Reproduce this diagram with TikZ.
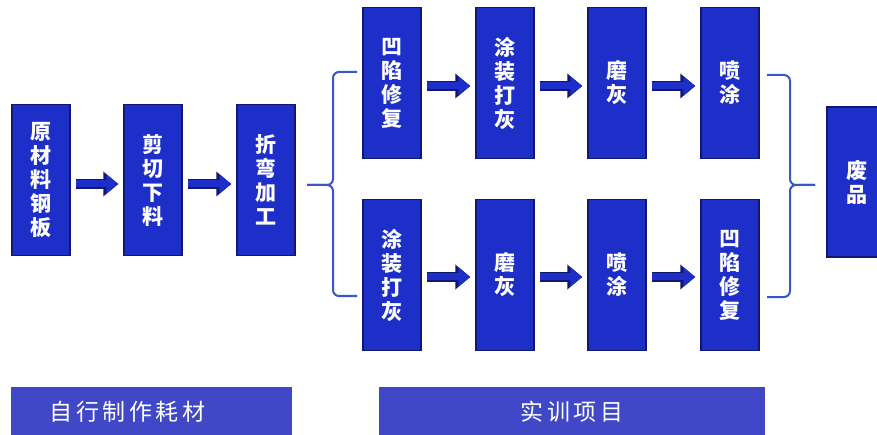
\documentclass[tikz,border=0pt]{standalone}
\usepackage{fontspec}
\usetikzlibrary{arrows.meta}
\newfontfamily\cjk{Noto Sans CJK SC}
\definecolor{boxblue}{RGB}{30,46,200}
\definecolor{boxline}{RGB}{18,24,110}
\definecolor{tagblue}{RGB}{64,72,200}
\definecolor{bracecol}{RGB}{55,85,205}
\tikzset{
  proc/.style={rectangle,fill=boxblue,draw=boxline,line width=1.5pt,
    minimum width=58pt,minimum height=151pt,inner sep=0pt,text=white,
    align=center,font=\cjk\bfseries\fontsize{21}{24}\selectfont},
  flow/.style={line width=7pt,draw=boxblue,-{Triangle[length=12pt,width=19pt]},
    shorten <=5pt,shorten >=5pt,
    preaction={draw=boxline,line width=10pt,-{Triangle[length=15pt,width=24pt]}}},
  tag/.style={rectangle,fill=tagblue,inner sep=0pt,minimum height=50pt,text=white,
    font=\cjk\fontsize{23}{24}\selectfont\addfontfeature{LetterSpace=15}},
  brace/.style={draw=bracecol,line width=2pt,rounded corners=6pt}
}
\begin{document}
\begin{tikzpicture}[x=1pt,y=-1pt]
  \clip (0,0) rectangle (877,435);
  \fill[white] (0,0) rectangle (877,435);

  % self-made stock
  \node[proc] (raw)  at (41,180)  {原\\材\\料\\钢\\板};
  \node[proc] (cut)  at (153,180) {剪\\切\\下\\料};
  \node[proc] (bend) at (266,180) {折\\弯\\加\\工};
  \draw[flow] ([yshift=-4pt]raw.east) -- ([yshift=-4pt]cut.west);
  \draw[flow] ([yshift=-4pt]cut.east) -- ([yshift=-4pt]bend.west);

  % training, upper line
  \node[proc] (dentA)  at (392,83) {凹\\陷\\修\\复};
  \node[proc] (coatA)  at (505,83) {涂\\装\\打\\灰};
  \node[proc] (sandA)  at (617,83) {磨\\灰};
  \node[proc] (sprayA) at (730,83) {喷\\涂};
  \draw[flow] ([yshift=-3pt]dentA.east) -- ([yshift=-3pt]coatA.west);
  \draw[flow] ([yshift=-3pt]coatA.east) -- ([yshift=-3pt]sandA.west);
  \draw[flow] ([yshift=-3pt]sandA.east) -- ([yshift=-3pt]sprayA.west);

  % training, lower line
  \node[proc] (coatB)  at (392,275) {涂\\装\\打\\灰};
  \node[proc] (sandB)  at (505,275) {磨\\灰};
  \node[proc] (sprayB) at (617,275) {喷\\涂};
  \node[proc] (dentB)  at (730,275) {凹\\陷\\修\\复};
  \draw[flow] ([yshift=-2pt]coatB.east) -- ([yshift=-2pt]sandB.west);
  \draw[flow] ([yshift=-2pt]sandB.east) -- ([yshift=-2pt]sprayB.west);
  \draw[flow] ([yshift=-2pt]sprayB.east) -- ([yshift=-2pt]dentB.west);

  \node[proc,minimum width=60pt,minimum height=150pt] (waste) at (857,182) {废\\品};

  % braces
  \draw[brace] (357,72) -- (333,72) -- (333,185) -- (307,185);
  \draw[brace] (357,296) -- (333,296) -- (333,185) -- (307,185);
  \draw[brace] (767,75) -- (790,75) -- (790,185) -- (815,185);
  \draw[brace] (767,297) -- (790,297) -- (790,185) -- (815,185);

  % captions
  \node[tag,minimum width=281pt] (selfmade) at (151.5,412) {自行制作耗材\hspace*{48pt}};
  \node[tag,minimum width=386pt] (training) at (572,412) {实训项目};
\end{tikzpicture}
\end{document}
